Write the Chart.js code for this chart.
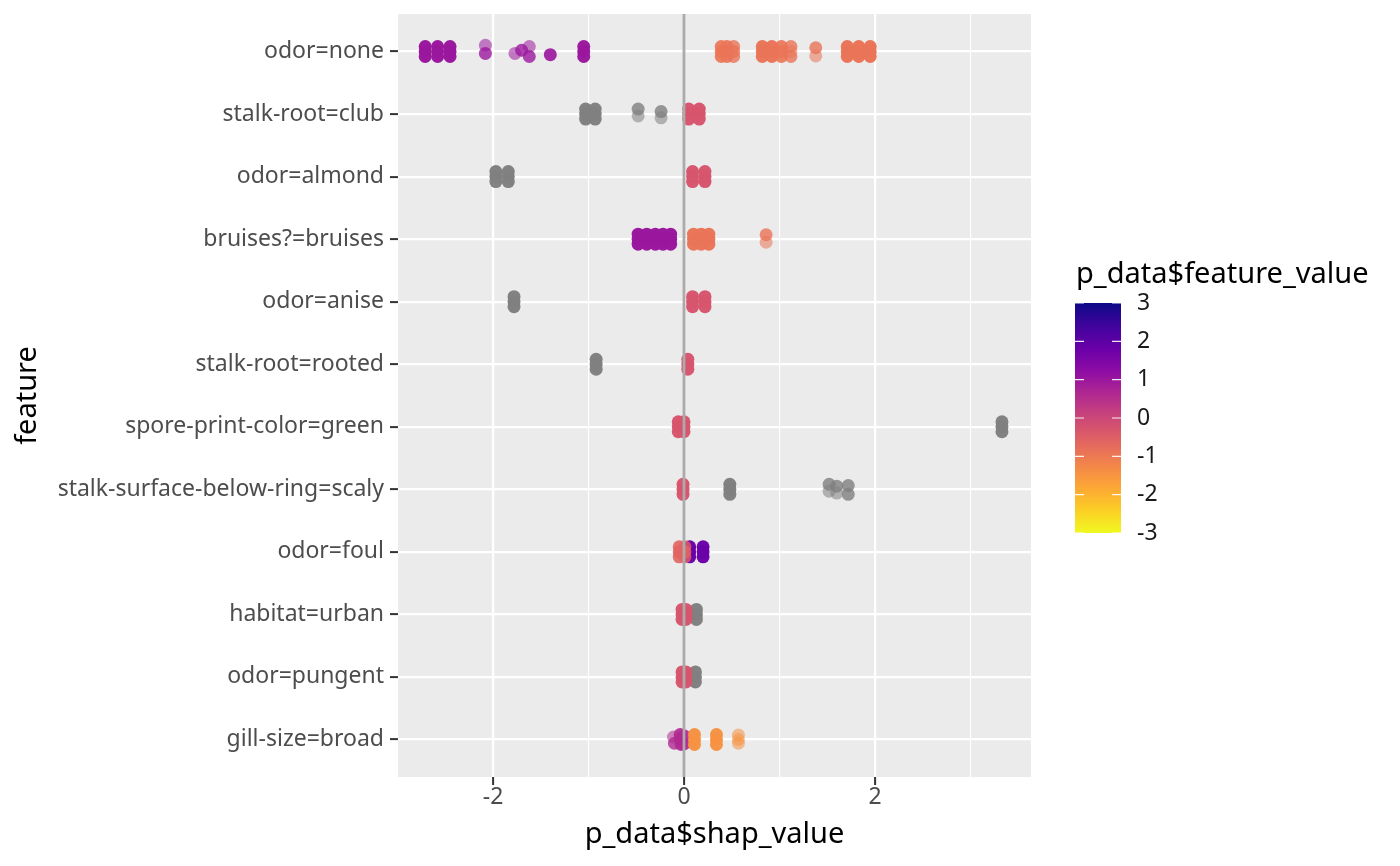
<!DOCTYPE html>
<html>
<head>
<meta charset="utf-8">
<script src="https://cdn.jsdelivr.net/npm/chart.js@4.4.1/dist/chart.umd.min.js"></script>
<style>
  html, body { margin: 0; padding: 0; background: #ffffff; }
  #wrap { width: 1400px; height: 866px; position: relative; }
</style>
</head>
<body>
<div id="wrap"><canvas id="c"></canvas></div>
<script>
// ---------------- DATA ----------------
const features = [
  'odor=none', 'stalk-root=club', 'odor=almond', 'bruises?=bruises',
  'odor=anise', 'stalk-root=rooted', 'spore-print-color=green',
  'stalk-surface-below-ring=scaly', 'odor=foul', 'habitat=urban',
  'odor=pungent', 'gill-size=broad'
];
const xTicks = [-3, -2, -1, 0, 1, 2, 3];
const xLabelTicks = [-2, 0, 2];
const colorTicks = [3, 2, 1, 0, -1, -2, -3];

// each point: [shap_value, feature_value (null = NA), vertical jitter, overlapping count]
const odorNone = [
  [-2.71, 1.0, -0.08, 6], [-2.71, 1.0, 0.0, 6], [-2.71, 1.0, 0.08, 6],
  [-2.58, 1.0, -0.08, 6], [-2.58, 1.0, 0.0, 6], [-2.58, 1.0, 0.08, 6],
  [-2.45, 1.0, -0.08, 6], [-2.45, 1.0, 0.0, 6], [-2.45, 1.0, 0.08, 6],
  [-2.08, 1.0, -0.10, 1], [-2.08, 1.0, 0.03, 2],
  [-1.77, 1.0, 0.03, 1],
  [-1.70, 1.0, -0.02, 2],
  [-1.62, 1.0, -0.08, 1], [-1.62, 1.0, 0.08, 2],
  [-1.40, 1.0, 0.05, 3],
  [-1.05, 1.0, -0.08, 5], [-1.05, 1.0, 0.0, 5], [-1.05, 1.0, 0.08, 5],
  [0.39, -0.9, -0.08, 3], [0.39, -0.9, 0.0, 3], [0.39, -0.9, 0.08, 3],
  [0.45, -0.9, -0.08, 3], [0.45, -0.9, 0.0, 3], [0.45, -0.9, 0.08, 3],
  [0.52, -0.9, -0.08, 2], [0.52, -0.9, 0.0, 2], [0.52, -0.9, 0.08, 2],
  [0.82, -0.9, -0.08, 5], [0.82, -0.9, 0.0, 5], [0.82, -0.9, 0.08, 5],
  [0.92, -0.9, -0.08, 5], [0.92, -0.9, 0.0, 5], [0.92, -0.9, 0.08, 5],
  [1.02, -0.9, -0.08, 3], [1.02, -0.9, 0.0, 3], [1.02, -0.9, 0.08, 3],
  [1.12, -0.9, -0.08, 2], [1.12, -0.9, 0.0, 1], [1.12, -0.9, 0.08, 2],
  [1.38, -0.9, -0.06, 2], [1.38, -0.9, 0.07, 1],
  [1.71, -0.9, -0.08, 6], [1.71, -0.9, 0.0, 6], [1.71, -0.9, 0.08, 6],
  [1.83, -0.9, -0.08, 6], [1.83, -0.9, 0.0, 6], [1.83, -0.9, 0.08, 6],
  [1.95, -0.9, -0.08, 6], [1.95, -0.9, 0.0, 6], [1.95, -0.9, 0.08, 6]
];
const stalkRootClub = [
  [-1.03, null, -0.08, 5], [-1.03, null, 0.0, 5], [-1.03, null, 0.08, 5],
  [-0.93, null, -0.08, 5], [-0.93, null, 0.0, 5], [-0.93, null, 0.08, 5],
  [-0.48, null, -0.08, 2], [-0.48, null, 0.03, 1],
  [-0.24, null, -0.04, 2], [-0.24, null, 0.06, 1],
  [0.05, -0.3, -0.08, 5], [0.05, -0.3, 0.0, 5], [0.05, -0.3, 0.08, 5],
  [0.16, -0.3, -0.08, 5], [0.16, -0.3, 0.0, 5], [0.16, -0.3, 0.08, 5]
];
const odorAlmond = [
  [-1.97, null, -0.08, 5], [-1.97, null, 0.0, 5], [-1.97, null, 0.08, 5],
  [-1.84, null, -0.08, 5], [-1.84, null, 0.0, 5], [-1.84, null, 0.08, 5],
  [0.09, -0.3, -0.08, 5], [0.09, -0.3, 0.0, 5], [0.09, -0.3, 0.08, 5],
  [0.22, -0.3, -0.08, 5], [0.22, -0.3, 0.0, 5], [0.22, -0.3, 0.08, 5]
];
const bruises = [
  [-0.48, 1.0, -0.08, 6], [-0.48, 1.0, 0.0, 6], [-0.48, 1.0, 0.08, 6],
  [-0.39, 1.0, -0.08, 6], [-0.39, 1.0, 0.0, 6], [-0.39, 1.0, 0.08, 6],
  [-0.30, 1.0, -0.08, 6], [-0.30, 1.0, 0.0, 6], [-0.30, 1.0, 0.08, 6],
  [-0.22, 1.0, -0.08, 6], [-0.22, 1.0, 0.0, 6], [-0.22, 1.0, 0.08, 6],
  [-0.14, 1.0, -0.08, 6], [-0.14, 1.0, 0.0, 6], [-0.14, 1.0, 0.08, 6],
  [0.10, -0.9, -0.08, 5], [0.10, -0.9, 0.0, 5], [0.10, -0.9, 0.08, 5],
  [0.18, -0.9, -0.08, 5], [0.18, -0.9, 0.0, 5], [0.18, -0.9, 0.08, 5],
  [0.26, -0.9, -0.08, 5], [0.26, -0.9, 0.0, 5], [0.26, -0.9, 0.08, 5],
  [0.86, -0.9, -0.07, 2], [0.86, -0.9, 0.05, 1]
];
const odorAnise = [
  [-1.78, null, -0.08, 5], [-1.78, null, 0.0, 5], [-1.78, null, 0.08, 5],
  [0.09, -0.3, -0.08, 5], [0.09, -0.3, 0.0, 5], [0.09, -0.3, 0.08, 5],
  [0.22, -0.3, -0.08, 5], [0.22, -0.3, 0.0, 5], [0.22, -0.3, 0.08, 5]
];
const stalkRootRooted = [
  [-0.92, null, -0.08, 5], [-0.92, null, 0.0, 5], [-0.92, null, 0.08, 5],
  [0.04, -0.3, -0.08, 5], [0.04, -0.3, 0.0, 5], [0.04, -0.3, 0.08, 5]
];
const sporeGreen = [
  [-0.06, -0.3, -0.08, 5], [-0.06, -0.3, 0.0, 5], [-0.06, -0.3, 0.08, 5],
  [0.00, -0.3, -0.08, 5], [0.00, -0.3, 0.0, 5], [0.00, -0.3, 0.08, 5],
  [3.33, null, -0.08, 5], [3.33, null, 0.0, 5], [3.33, null, 0.08, 5]
];
const surfaceScaly = [
  [-0.01, -0.3, -0.08, 5], [-0.01, -0.3, 0.0, 5], [-0.01, -0.3, 0.08, 5],
  [0.48, null, -0.08, 5], [0.48, null, 0.0, 5], [0.48, null, 0.08, 5],
  [1.52, null, -0.08, 2], [1.52, null, 0.03, 1],
  [1.60, null, -0.05, 2], [1.60, null, 0.06, 1],
  [1.72, null, -0.06, 2], [1.72, null, 0.08, 2]
];
const odorFoul = [
  [0.06, 1.8, -0.08, 5], [0.06, 1.8, 0.0, 5], [0.06, 1.8, 0.08, 5],
  [-0.05, -0.6, -0.08, 3], [-0.05, -0.6, 0.0, 3], [-0.05, -0.6, 0.08, 3],
  [0.01, -0.6, -0.08, 2], [0.01, -0.6, 0.0, 2], [0.01, -0.6, 0.08, 2],
  [0.20, 1.8, -0.08, 5], [0.20, 1.8, 0.0, 5], [0.20, 1.8, 0.08, 5]
];
const habitatUrban = [
  [0.13, null, -0.08, 5], [0.13, null, 0.0, 5], [0.13, null, 0.08, 5],
  [-0.02, -0.3, -0.08, 5], [-0.02, -0.3, 0.0, 5], [-0.02, -0.3, 0.08, 5],
  [0.02, -0.3, -0.08, 5], [0.02, -0.3, 0.0, 5], [0.02, -0.3, 0.08, 5]
];
const odorPungent = [
  [0.12, null, -0.08, 5], [0.12, null, 0.0, 5], [0.12, null, 0.08, 5],
  [-0.02, -0.3, -0.08, 5], [-0.02, -0.3, 0.0, 5], [-0.02, -0.3, 0.08, 5],
  [0.02, -0.3, -0.08, 5], [0.02, -0.3, 0.0, 5], [0.02, -0.3, 0.08, 5]
];
const gillSizeBroad = [
  [-0.11, 0.6, -0.04, 1], [-0.10, 0.6, 0.06, 2],
  [-0.04, 0.6, -0.08, 3], [-0.04, 0.6, 0.0, 3], [-0.03, 0.6, 0.08, 3],
  [0.00, 0.6, -0.06, 3], [0.00, 0.6, 0.07, 3],
  [0.11, -1.45, -0.08, 5], [0.11, -1.45, 0.0, 5], [0.11, -1.45, 0.08, 5],
  [0.34, -1.45, -0.08, 5], [0.34, -1.45, 0.0, 5], [0.34, -1.45, 0.08, 5],
  [0.57, -1.45, -0.07, 1], [0.57, -1.45, 0.00, 1], [0.57, -1.45, 0.06, 1]
];
const rows = [odorNone, stalkRootClub, odorAlmond, bruises, odorAnise, stalkRootRooted,
  sporeGreen, surfaceScaly, odorFoul, habitatUrban, odorPungent, gillSizeBroad];

// ---------------- COLOUR SCALE (plasma, 3 -> -3) ----------------
const plasma = ['#0d0887','#41049d','#6a00a8','#8f0da4','#b12a90','#cc4778',
                '#e16462','#f2844b','#fca636','#fcce25','#f0f921'];
function hex2rgb(h){ return [parseInt(h.substr(1,2),16), parseInt(h.substr(3,2),16), parseInt(h.substr(5,2),16)]; }
function plasmaAt(t){
  t = Math.max(0, Math.min(1, t));
  const p = t * (plasma.length - 1);
  const i = Math.min(plasma.length - 2, Math.floor(p));
  const f = p - i;
  const a = hex2rgb(plasma[i]), b = hex2rgb(plasma[i+1]);
  return a.map((v, k) => Math.round(v + (b[k] - v) * f));
}
const baseAlpha = 0.55;
function pointColor(raw){
  const rgb = raw.v === null ? [127,127,127] : plasmaAt((3 - raw.v) / 6);
  const a = 1 - Math.pow(1 - baseAlpha, raw.n);
  return `rgba(${rgb[0]},${rgb[1]},${rgb[2]},${a.toFixed(3)})`;
}

const points = [];
rows.forEach((arr, i) => arr.forEach(([s, v, j, n]) => points.push({ x: s, y: i + j, v: v, n: n })));

const FONT = '"Noto Sans", "Open Sans", sans-serif';

const panelBg = {
  id: 'panelBg',
  beforeDraw(chart) {
    const { ctx, chartArea: a } = chart;
    ctx.save();
    ctx.fillStyle = '#EBEBEB';
    ctx.fillRect(a.left, a.top, a.right - a.left, a.bottom - a.top);
    ctx.restore();
  }
};
const zeroLine = {
  id: 'zeroLine',
  afterDatasetsDraw(chart) {
    const { ctx, chartArea: a, scales } = chart;
    const x = scales.x.getPixelForValue(0);
    ctx.save();
    ctx.strokeStyle = '#ABABAB';
    ctx.lineWidth = 2.8;
    ctx.beginPath();
    ctx.moveTo(x, a.top);
    ctx.lineTo(x, a.bottom);
    ctx.stroke();
    ctx.restore();
  }
};
const colorBar = {
  id: 'colorBar',
  afterDraw(chart) {
    const ctx = chart.ctx;
    const left = 1075, right = 1121, top = 303, bottom = 533;
    ctx.save();
    ctx.fillStyle = '#000000';
    ctx.font = '29px ' + FONT;
    ctx.textAlign = 'left';
    ctx.textBaseline = 'middle';
    ctx.fillText('p_data$feature_value', 1076, 275);
    const g = ctx.createLinearGradient(0, top, 0, bottom);
    plasma.forEach((c, i) => g.addColorStop(i / (plasma.length - 1), c));
    ctx.fillStyle = g;
    ctx.fillRect(left, top, right - left, bottom - top);
    const vmax = colorTicks[0], vmin = colorTicks[colorTicks.length - 1];
    ctx.strokeStyle = 'rgba(255,255,255,0.9)';
    ctx.lineWidth = 1.2;
    ctx.font = '23px ' + FONT;
    ctx.fillStyle = '#1A1A1A';
    colorTicks.forEach(v => {
      const y = top + (vmax - v) / (vmax - vmin) * (bottom - top);
      ctx.beginPath();
      ctx.moveTo(left, y); ctx.lineTo(left + 9, y);
      ctx.moveTo(right - 9, y); ctx.lineTo(right, y);
      ctx.stroke();
      ctx.fillText(String(v), 1137, y);
    });
    ctx.restore();
  }
};

new Chart(document.getElementById('c'), {
  type: 'scatter',
  data: {
    datasets: [{
      data: points,
      pointRadius: 6.5,
      pointHoverRadius: 6.5,
      borderWidth: 0,
      pointBorderWidth: 0,
      backgroundColor: ctx => pointColor(ctx.raw),
      pointBackgroundColor: ctx => pointColor(ctx.raw)
    }]
  },
  options: {
    responsive: true,
    maintainAspectRatio: false,
    animation: false,
    layout: { padding: { top: 14, right: 369, bottom: 0, left: 0 } },
    plugins: { legend: { display: false }, tooltip: { enabled: false } },
    scales: {
      x: {
        type: 'linear',
        min: -2.995, max: 3.634,
        afterBuildTicks: s => { s.ticks = xTicks.map(v => ({ value: v })); },
        afterFit: s => { s.height = 89; s.paddingLeft = 0; s.paddingRight = 0; },
        border: { display: false },
        grid: {
          color: '#FFFFFF',
          lineWidth: c => (xLabelTicks.includes(c.tick && c.tick.value) ? 2.2 : 1.1),
          tickColor: c => (xLabelTicks.includes(c.tick && c.tick.value) ? '#333333' : 'rgba(0,0,0,0)'),
          tickLength: 8,
          tickWidth: 2
        },
        ticks: {
          autoSkip: false,
          maxRotation: 0,
          padding: -1,
          color: '#4D4D4D',
          font: { family: FONT, size: 23 },
          callback: v => (xLabelTicks.includes(v) ? String(v) : '')
        },
        title: {
          display: true,
          text: 'p_data$shap_value',
          color: '#000000',
          font: { family: FONT, size: 29 },
          padding: { top: 0, bottom: 14 }
        }
      },
      y: {
        type: 'linear',
        reverse: true,
        min: -0.6, max: 11.6,
        afterBuildTicks: s => { s.ticks = features.map((f, i) => ({ value: i })); },
        afterFit: s => { s.width = 398; s.paddingTop = 0; s.paddingBottom = 0; },
        border: { display: false },
        grid: {
          color: '#FFFFFF',
          lineWidth: 2.2,
          tickColor: '#333333',
          tickLength: 8,
          tickWidth: 2
        },
        ticks: {
          autoSkip: false,
          padding: 6,
          color: '#4D4D4D',
          font: { family: FONT, size: 23 },
          callback: v => features[v]
        },
        title: {
          display: true,
          text: 'feature',
          color: '#000000',
          font: { family: FONT, size: 29 },
          padding: { top: 10, bottom: 0 }
        }
      }
    }
  },
  plugins: [panelBg, zeroLine, colorBar]
});
</script>
</body>
</html>
